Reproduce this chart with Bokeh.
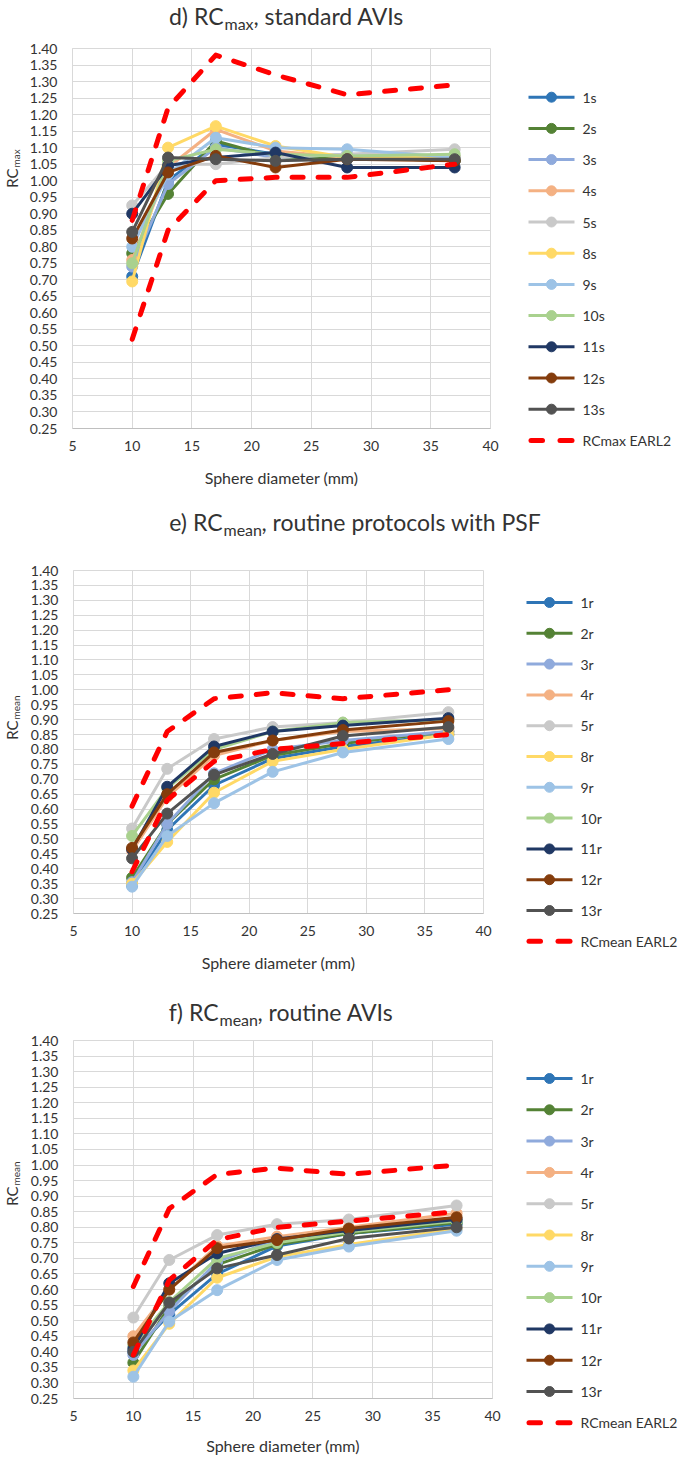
import math
from bokeh.plotting import figure
from bokeh.models import Range1d, FixedTicker, PrintfTickFormatter
from bokeh.layouts import column, row
from bokeh.embed import file_html
from bokeh.resources import INLINE
from bokeh.core.properties import value

# ---------------- data ----------------
diameters = [10, 13, 17, 22, 28, 37]
x_ticks = [5, 10, 15, 20, 25, 30, 35, 40]
y_ticks = [round(0.25 + 0.05 * i, 2) for i in range(24)]

std_names = ["1s", "2s", "3s", "4s", "5s", "8s", "9s", "10s", "11s", "12s", "13s"]
rtn_names = ["1r", "2r", "3r", "4r", "5r", "8r", "9r", "10r", "11r", "12r", "13r"]

# d) RCmax, standard AVIs
d_1s = [0.71, 1.00, 1.11, 1.08, 1.07, 1.06]
d_2s = [0.78, 0.96, 1.12, 1.07, 1.07, 1.06]
d_3s = [0.74, 0.99, 1.10, 1.07, 1.08, 1.07]
d_4s = [0.76, 1.04, 1.155, 1.09, 1.07, 1.07]
d_5s = [0.925, 1.05, 1.05, 1.07, 1.08, 1.095]
d_8s = [0.695, 1.10, 1.165, 1.105, 1.07, 1.07]
d_9s = [0.80, 1.02, 1.13, 1.10, 1.095, 1.07]
d_10s = [0.75, 1.06, 1.095, 1.08, 1.075, 1.08]
d_11s = [0.90, 1.045, 1.07, 1.085, 1.04, 1.04]
d_12s = [0.825, 1.025, 1.075, 1.04, 1.065, 1.06]
d_13s = [0.845, 1.07, 1.065, 1.06, 1.065, 1.065]

# e) RCmean, routine protocols with PSF
e_1r = [0.345, 0.53, 0.68, 0.77, 0.81, 0.85]
e_2r = [0.37, 0.55, 0.70, 0.78, 0.82, 0.86]
e_3r = [0.355, 0.55, 0.72, 0.80, 0.83, 0.86]
e_4r = [0.46, 0.64, 0.78, 0.83, 0.86, 0.87]
e_5r = [0.535, 0.735, 0.835, 0.875, 0.89, 0.925]
e_8r = [0.35, 0.49, 0.655, 0.76, 0.80, 0.85]
e_9r = [0.34, 0.51, 0.62, 0.725, 0.79, 0.835]
e_10r = [0.51, 0.67, 0.80, 0.86, 0.89, 0.90]
e_11r = [0.465, 0.675, 0.81, 0.86, 0.88, 0.905]
e_12r = [0.47, 0.65, 0.79, 0.83, 0.865, 0.895]
e_13r = [0.435, 0.585, 0.715, 0.785, 0.845, 0.875]

# f) RCmean, routine AVIs
f_1r = [0.40, 0.52, 0.65, 0.74, 0.78, 0.81]
f_2r = [0.365, 0.545, 0.68, 0.745, 0.78, 0.815]
f_3r = [0.39, 0.53, 0.69, 0.76, 0.79, 0.825]
f_4r = [0.45, 0.60, 0.74, 0.77, 0.80, 0.845]
f_5r = [0.51, 0.695, 0.775, 0.81, 0.825, 0.87]
f_8r = [0.34, 0.49, 0.638, 0.705, 0.745, 0.795]
f_9r = [0.32, 0.497, 0.598, 0.695, 0.738, 0.789]
f_10r = [0.42, 0.56, 0.70, 0.75, 0.785, 0.82]
f_11r = [0.41, 0.62, 0.716, 0.762, 0.79, 0.825]
f_12r = [0.43, 0.60, 0.733, 0.759, 0.796, 0.832]
f_13r = [0.40, 0.558, 0.668, 0.711, 0.764, 0.80]

# EARL2 limits
earl2_max_low = [0.52, 0.85, 1.00, 1.01, 1.01, 1.05]
earl2_max_high = [0.88, 1.22, 1.38, 1.32, 1.26, 1.29]
earl2_mean_low = [0.39, 0.63, 0.76, 0.80, 0.82, 0.85]
earl2_mean_high = [0.61, 0.86, 0.97, 0.99, 0.97, 1.00]

series_colors = ["#2E75B6", "#548235", "#8FAADC", "#F4B183", "#C9C9C9", "#FFD966",
                 "#9DC3E6", "#A9D18E", "#203864", "#843C0C", "#525252"]
EARL_COLOR = "#FF0000"
GRID = "#D9D9D9"
TXT = "#333333"
FONT = "Lato"
PAGE_W = 685
YLAB_W = 26


def blank_fig(w, h, flip=True):
    yr = Range1d(h, 0) if flip else Range1d(0, h)
    p = figure(width=w, height=h, x_range=Range1d(0, w), y_range=yr, title=None,
               x_axis_location=None, y_axis_location=None, frame_align=False,
               min_border=0, min_border_left=0, min_border_right=0,
               min_border_top=0, min_border_bottom=0,
               output_backend="svg", toolbar_location=None)
    p.outline_line_color = None
    p.xgrid.visible = False
    p.ygrid.visible = False
    p.background_fill_color = "white"
    p.border_fill_color = "white"
    return p


def title_fig(h, pre, sub, post, join_x, center_local):
    p = blank_fig(PAGE_W, h)
    sub_w = {"max": 29, "mean": 38}[sub]
    p.text(x=[join_x], y=[center_local], text=[pre], text_align="right", text_baseline="middle",
           text_font=value(FONT), text_font_size=value("23px"), text_color=TXT)
    p.text(x=[join_x + 1], y=[center_local + 7.5], text=[sub], text_align="left",
           text_baseline="middle", text_font=value(FONT), text_font_size=value("16px"),
           text_color=TXT)
    p.text(x=[join_x + 1 + sub_w], y=[center_local], text=[post], text_align="left",
           text_baseline="middle", text_font=value(FONT), text_font_size=value("23px"),
           text_color=TXT)
    return p


def ylab_fig(h, sub, join_local):
    p = blank_fig(YLAB_W, h, flip=False)
    yj = h - join_local
    p.text(x=[11], y=[yj], text=["RC"], angle=math.pi / 2, text_align="right",
           text_baseline="middle", text_font=value(FONT), text_font_size=value("15px"),
           text_color=TXT)
    p.text(x=[15], y=[yj + 1], text=[sub], angle=math.pi / 2, text_align="left",
           text_baseline="middle", text_font=value(FONT), text_font_size=value("10px"),
           text_color=TXT)
    return p


def legend_fig(w, h, left_page, top_page, names, earl_label, first_y, pitch):
    p = blank_fig(w, h)
    x0 = 526 - left_page
    x1 = 572 - left_page
    for i, (name, col) in enumerate(zip(names, series_colors)):
        yy = first_y + i * pitch - top_page
        p.line([x0, x1], [yy, yy], line_width=3, line_color=col)
        p.scatter([(x0 + x1) / 2], [yy], size=10, marker="circle", fill_color=col, line_color=col)
        p.text(x=[580 - left_page], y=[yy], text=[name], text_align="left", text_baseline="middle",
               text_font=value(FONT), text_font_size=value("14px"), text_color=TXT)
    yy = first_y + len(names) * pitch - top_page
    p.segment(x0=[x0 + 2.5, x0 + 31.5], y0=[yy, yy], x1=[x0 + 14, x0 + 43.5], y1=[yy, yy],
              line_width=5, line_color=EARL_COLOR, line_cap="round")
    p.text(x=[580 - left_page], y=[yy], text=[earl_label], text_align="left",
           text_baseline="middle", text_font=value(FONT), text_font_size=value("14px"),
           text_color=TXT)
    return p


def main_fig(frame, row_top, row_bottom, series, low, high, title_standoff, ylab_standoff):
    L, T, R, B = frame
    fw, fh = R - L, B - T
    left = L - YLAB_W
    p = figure(frame_width=fw, frame_height=fh, frame_align=False, title=None,
               min_border_left=left, min_border_right=12,
               min_border_top=T - row_top, min_border_bottom=row_bottom - B,
               x_range=Range1d(5, 40), y_range=Range1d(0.25, 1.40),
               output_backend="svg", toolbar_location=None)
    p.background_fill_color = "white"
    p.border_fill_color = "white"
    p.outline_line_color = GRID
    p.outline_line_width = 1

    p.xaxis.ticker = FixedTicker(ticks=x_ticks)
    p.yaxis.ticker = FixedTicker(ticks=y_ticks)
    p.yaxis.formatter = PrintfTickFormatter(format="%.2f")
    p.xgrid.ticker = FixedTicker(ticks=x_ticks)
    p.ygrid.ticker = FixedTicker(ticks=y_ticks)
    for g in (p.xgrid, p.ygrid):
        g.grid_line_color = GRID
        g.grid_line_width = 1
    for ax in (p.xaxis, p.yaxis):
        ax.major_tick_line_color = None
        ax.minor_tick_line_color = None
        ax.major_tick_out = 0
        ax.major_tick_in = 0
        ax.major_label_text_font = FONT
        ax.major_label_text_font_size = "14px"
        ax.major_label_text_color = TXT
    p.xaxis.axis_line_color = "#BFBFBF"
    p.yaxis.axis_line_color = GRID
    p.xaxis.major_label_standoff = 12
    p.yaxis.major_label_standoff = ylab_standoff
    p.xaxis.axis_label = "Sphere diameter (mm)"
    p.xaxis.axis_label_text_font = FONT
    p.xaxis.axis_label_text_font_size = "16px"
    p.xaxis.axis_label_text_font_style = "normal"
    p.xaxis.axis_label_text_color = TXT
    p.xaxis.axis_label_standoff = title_standoff

    for vals, col in zip(series, series_colors):
        p.line(diameters, vals, line_width=3, line_color=col, line_join="round")
        p.scatter(diameters, vals, size=11, marker="circle", fill_color=col, line_color=col)
    for lim in (low, high):
        p.line(diameters, lim, line_width=5, line_color=EARL_COLOR, line_dash="11 15",
               line_cap="round", line_join="round")
    return p


def panel(top, title_h, bottom, frame, series, names, low, high, earl_label,
          pre, sub, post, join_x, center_page, ylab_join_page, leg_first, leg_pitch,
          standoff, ystand):
    row_top = top + title_h
    h = bottom - row_top
    t = title_fig(title_h, pre, sub, post, join_x, center_page - top)
    y = ylab_fig(h, sub, ylab_join_page - row_top)
    m = main_fig(frame, row_top, bottom, series, low, high, standoff, ystand)
    main_right = frame[2] + 12
    lw = PAGE_W - main_right
    lg = legend_fig(lw, h, main_right, row_top, names, earl_label, leg_first, leg_pitch)
    return column(t, row(y, m, lg, spacing=0), spacing=0)


pan_d = panel(0, 38, 492, (70, 48, 488, 428),
              [d_1s, d_2s, d_3s, d_4s, d_5s, d_8s, d_9s, d_10s, d_11s, d_12s, d_13s],
              std_names, earl2_max_low, earl2_max_high, "RCmax EARL2",
              "d) RC", "max", ", standard AVIs", 223, 15, 168, 96.7, 31.2, 14, 15)
pan_e = panel(492, 68, 976, (73, 570, 483, 913),
              [e_1r, e_2r, e_3r, e_4r, e_5r, e_8r, e_9r, e_10r, e_11r, e_12r, e_13r],
              rtn_names, earl2_mean_low, earl2_mean_high, "RCmean EARL2",
              "e) RC", "mean", ", routine protocols with PSF", 222, 521, 720, 602, 30.8, 14, 15)
pan_f = panel(976, 54, 1459, (73, 1040, 492, 1398),
              [f_1r, f_2r, f_3r, f_4r, f_5r, f_8r, f_9r, f_10r, f_11r, f_12r, f_13r],
              rtn_names, earl2_mean_low, earl2_mean_high, "RCmean EARL2",
              "f) RC", "mean", ", routine AVIs", 218, 1011, 1186, 1078, 31.3, 12, 15)

layout = column(pan_d, pan_e, pan_f, spacing=0)
open("out.html", "w").write(file_html(layout, INLINE))
